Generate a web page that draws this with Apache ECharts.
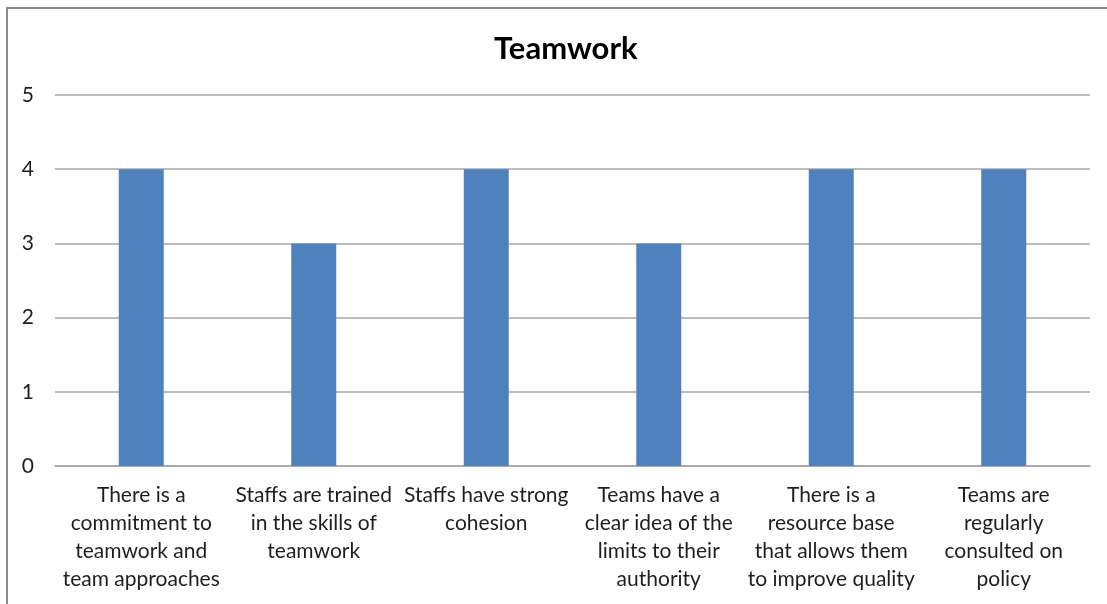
<!DOCTYPE html>
<html>
<head>
<meta charset="utf-8">
<script src="https://cdn.jsdelivr.net/npm/echarts@6/dist/echarts.min.js"></script>
<style>
  html, body { margin: 0; padding: 0; background: #fff; overflow: hidden; }
  #chart { width: 1107px; height: 604px; }
</style>
</head>
<body>
<div id="chart"></div>
<script>
// Survey item labels (line-broken as printed under each bar)
const categories = [
  'There is a\ncommitment to\nteamwork and\nteam approaches',
  'Staffs are trained\nin the skills of\nteamwork',
  'Staffs have strong\ncohesion',
  'Teams have a\nclear idea of the\nlimits to their\nauthority',
  'There is a\nresource base\nthat allows them\nto improve quality',
  'Teams are\nregularly\nconsulted on\npolicy'
];
// Scores per item
const scores = [4, 3, 4, 3, 4, 4];
// Value axis range
const yMin = 0;
const yMax = 5;
const yStep = 1;

const chart = echarts.init(document.getElementById('chart'), null, { renderer: 'canvas' });
const font = 'Lato, "Open Sans", sans-serif';

chart.setOption({
  animation: false,
  backgroundColor: '#fff',
  title: {
    text: 'Teamwork',
    left: 489,
    top: 28,
    textStyle: { fontFamily: font, fontSize: 31, fontWeight: 'bold', color: '#000' }
  },
  graphic: [{
    type: 'rect',
    shape: { x: 7, y: 8, width: 1130, height: 640 },
    style: { fill: 'none', stroke: '#8c8c8c', lineWidth: 2 },
    silent: true
  }],
  grid: { left: 55, right: 17, top: 95, bottom: 138, containLabel: false },
  xAxis: {
    type: 'category',
    data: categories,
    axisLine: { show: true, lineStyle: { color: '#a6a6a6', width: 1.5 } },
    axisTick: { show: false },
    axisLabel: {
      interval: 0,
      margin: 15,
      fontFamily: font,
      fontSize: 21,
      lineHeight: 28,
      color: '#1e1e1e',
      align: 'center'
    }
  },
  yAxis: {
    type: 'value',
    min: yMin,
    max: yMax,
    interval: yStep,
    axisLine: { show: false },
    axisTick: { show: false },
    splitLine: { show: true, lineStyle: { color: '#a6a6a6', width: 1.5 } },
    axisLabel: { margin: 21, fontFamily: font, fontSize: 21, color: '#1e1e1e' }
  },
  series: [{
    type: 'bar',
    data: scores,
    barWidth: 45,
    itemStyle: { color: '#4f81bd' }
  }]
});
</script>
</body>
</html>
